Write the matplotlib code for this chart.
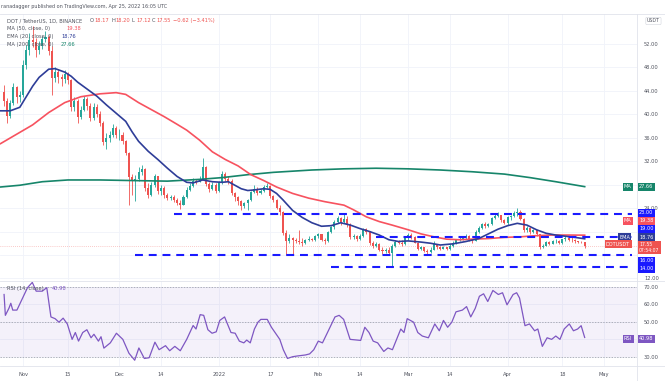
import matplotlib.pyplot as plt
import numpy as np

W, H = 665, 381

# daily DOT/USDT candles, Oct 26 2021 .. Apr 25 2022 (x = days since Nov 1 2021)
first_day = -6
first_open = 43.8
close = [
    42.3, 39.8, 41.9, 44.6, 42.9, 43.3,  # Oct
    48.5, 50.9, 52.6, 52.4, 51.0, 51.6, 52.8, 53.2, 50.8, 46.2, 47.3, 46.4, 46.0, 46.9, 45.8,
    41.3, 42.2, 39.6, 40.8, 42.6, 41.4, 39.4, 41.2, 40.1, 38.5, 35.2, 35.9, 36.5, 37.6, 36.4,  # Nov
    36.5, 35.4, 33.4, 29.3, 28.6, 29.0, 30.2, 30.6, 27.4, 26.3, 27.9, 29.4, 26.9, 27.4, 26.3,
    25.7, 25.9, 25.4, 24.9, 24.6, 25.9, 27.1, 27.8, 28.7, 28.5, 29.0, 31.0, 28.1, 27.3, 28.0, 26.9,  # Dec
    28.4, 29.9, 29.0, 28.6, 26.6, 25.9, 25.2, 24.4, 24.8, 25.4, 26.8, 27.3, 26.5, 27.0, 27.6,
    27.8, 26.0, 25.3, 24.0, 23.3, 19.7, 18.4, 18.9, 18.5, 18.3, 18.2, 18.0, 18.5, 18.8, 18.5, 19.2,  # Jan
    19.5, 18.6, 18.3, 19.9, 20.8, 21.6, 22.3, 21.6, 22.2, 21.2, 19.0, 19.3, 18.7, 19.2, 20.4,
    19.9, 18.0, 17.6, 17.9, 16.9, 16.6, 16.9, 16.4, 17.6, 18.2, 18.0, 17.9, 19.0,  # Feb
    19.4, 19.0, 18.1, 17.0, 17.3, 16.6, 16.5, 16.9, 17.9, 17.3, 17.0, 17.3, 17.0, 17.6, 18.1,
    18.6, 18.7, 19.0, 19.3, 18.5, 18.4, 20.0, 20.6, 21.3, 20.9, 21.3, 22.3, 22.6, 22.8, 21.9, 21.5,  # Mar
    22.4, 22.6, 23.2, 23.3, 22.2, 20.2, 20.6, 19.9, 20.2, 19.5, 17.3, 17.6, 18.2, 17.9, 18.3,
    18.4, 18.0, 18.7, 18.9, 18.6, 18.5, 18.3, 18.2, 18.17, 17.55,  # Apr
]
high = [
    45.0, 42.8, 42.5, 45.3, 44.8, 44.0,
    49.2, 51.8, 53.9, 55.1, 53.0, 52.5, 53.4, 54.2, 53.6, 51.6, 48.1, 47.8, 46.9, 47.5, 47.3,
    46.0, 42.9, 42.6, 41.5, 43.2, 42.9, 42.0, 41.9, 41.8, 40.6, 38.9, 36.8, 37.2, 38.4, 38.0,
    37.5, 36.9, 35.6, 33.5, 29.9, 29.6, 31.0, 31.3, 30.8, 28.2, 28.4, 29.9, 29.5, 27.9, 27.7,
    26.6, 26.3, 26.2, 25.7, 25.3, 26.2, 27.6, 28.2, 29.1, 29.0, 29.5, 32.6, 31.2, 28.4, 28.5, 28.2,
    28.7, 30.3, 30.2, 29.5, 29.0, 26.8, 26.0, 25.4, 25.1, 25.6, 27.0, 27.9, 27.6, 27.3, 27.9,
    28.2, 27.9, 26.2, 25.5, 24.6, 23.5, 20.2, 19.6, 19.0, 18.9, 20.3, 18.9, 18.7, 19.2, 18.9, 19.4,
    19.8, 19.6, 18.9, 20.1, 21.0, 21.9, 22.6, 22.5, 23.1, 22.6, 21.4, 19.6, 19.4, 19.5, 20.6,
    20.6, 20.1, 18.3, 18.2, 18.0, 17.3, 17.2, 17.3, 17.8, 18.5, 18.6, 18.5, 19.3,
    19.8, 19.7, 19.2, 18.2, 17.5, 17.4, 17.0, 17.3, 18.3, 17.9, 17.6, 17.5, 17.4, 17.8, 18.3,
    18.8, 19.0, 19.3, 19.6, 19.4, 18.8, 20.3, 20.9, 21.5, 21.6, 21.5, 22.5, 23.1, 23.4, 22.9, 22.2,
    22.6, 22.9, 23.5, 24.0, 23.6, 22.3, 20.9, 20.8, 20.4, 20.3, 19.6, 17.9, 18.4, 18.4, 18.5,
    18.7, 18.5, 18.8, 19.2, 19.1, 19.0, 18.7, 18.4, 18.3, 18.20,
]
low = [
    41.5, 38.6, 39.3, 41.6, 42.0, 42.1,
    43.0, 47.8, 50.2, 51.5, 49.8, 50.3, 51.2, 52.3, 50.1, 43.3, 45.6, 45.3, 44.9, 45.4, 45.1,
    40.6, 40.5, 38.5, 39.2, 40.5, 40.8, 38.9, 39.0, 39.6, 38.0, 34.8, 34.0, 35.2, 36.2, 35.9,
    35.6, 34.9, 33.0, 24.6, 26.2, 25.2, 28.7, 29.7, 27.0, 25.8, 26.1, 27.6, 26.4, 26.2, 25.7,
    25.3, 25.4, 25.0, 24.6, 23.9, 24.5, 25.7, 26.9, 27.6, 28.1, 28.4, 28.9, 27.7, 26.8, 27.1, 26.6,
    26.7, 28.1, 28.6, 28.1, 26.2, 25.2, 24.5, 23.6, 24.0, 23.7, 25.2, 26.6, 26.3, 26.4, 26.8,
    27.4, 25.7, 25.0, 23.8, 22.9, 19.4, 16.0, 18.1, 16.2, 18.0, 17.9, 17.6, 17.8, 18.3, 18.3, 18.3,
    18.9, 18.4, 17.9, 18.2, 19.7, 20.5, 21.4, 21.2, 21.5, 20.8, 18.8, 18.7, 18.3, 18.5, 19.1,
    19.6, 17.7, 17.2, 17.4, 16.7, 16.1, 16.3, 16.2, 14.2, 17.4, 17.8, 17.6, 17.7,
    18.6, 18.7, 18.0, 16.8, 16.9, 16.5, 16.1, 16.3, 16.8, 17.0, 16.8, 17.0, 16.8, 16.9, 17.4,
    17.8, 18.4, 18.5, 18.8, 18.3, 18.0, 18.3, 19.7, 20.4, 20.6, 20.8, 21.2, 22.2, 22.4, 21.7, 21.3,
    21.2, 22.0, 22.4, 22.6, 22.0, 20.0, 20.0, 19.6, 19.7, 19.3, 17.1, 17.2, 17.5, 17.7, 17.8,
    18.0, 17.8, 17.8, 18.4, 18.4, 18.2, 18.1, 18.0, 18.0, 17.12,
]

# moving averages (day, price)
ema20_days = [-7, -4, -1, 1, 3, 5, 8, 10, 13, 15, 17, 20, 23, 26, 29, 32, 34, 36, 39, 42, 45, 48,
              51, 53, 56, 59, 62, 64, 66, 68, 70, 72, 75, 77, 79, 81, 84, 87, 90, 93, 96, 99, 102,
              105, 108, 111, 114, 117, 120, 124, 127, 130, 134, 138, 142, 145, 148, 151, 154, 157,
              160, 163, 166, 169, 172, 175]
ema20_vals = [40.6, 40.6, 41.2, 43.0, 44.8, 46.3, 47.7, 47.8, 47.2, 46.5, 45.5, 44.3, 43.1, 41.6,
              40.2, 38.8, 37.0, 35.4, 33.7, 32.3, 30.8, 29.4, 28.4, 28.3, 28.8, 28.5, 28.4, 28.5,
              27.9, 27.3, 27.0, 27.1, 27.3, 27.2, 26.5, 25.4, 23.6, 22.4, 21.5, 20.9, 21.0, 21.5,
              21.1, 20.5, 20.0, 19.4, 18.6, 18.3, 18.4, 18.2, 18.0, 17.7, 17.9, 18.3, 18.8, 19.6,
              20.4, 21.0, 21.4, 21.1, 20.3, 19.7, 19.4, 19.2, 19.0, 18.76]
ma50_days = [-7, -2, 3, 8, 13, 18, 24, 29, 32, 36, 40, 44, 48, 51, 55, 59, 63, 67, 71, 75, 79, 84,
             89, 94, 100, 103, 107, 111, 115, 120, 124, 128, 132, 136, 140, 145, 150, 155, 160,
             165, 170, 175]
ma50_vals = [35.0, 36.6, 38.2, 40.3, 42.0, 43.0, 43.5, 43.7, 43.4, 42.0, 40.8, 39.6, 38.3, 37.3,
             35.6, 33.6, 32.3, 31.2, 29.7, 28.7, 27.6, 26.5, 25.7, 25.1, 24.5, 23.7, 22.5, 21.7,
             21.1, 20.3, 19.6, 19.1, 18.7, 18.6, 18.7, 18.8, 19.0, 19.1, 19.3, 19.4, 19.4, 19.38]
ma200_days = [-7, -1, 6, 14, 24, 34, 45, 55, 62, 70, 78, 90, 100, 110, 120, 130, 140, 150, 158,
              166, 175]
ma200_vals = [27.6, 27.9, 28.5, 28.8, 28.8, 28.7, 28.6, 28.9, 29.2, 29.7, 30.1, 30.5, 30.7, 30.8,
              30.7, 30.5, 30.2, 29.8, 29.2, 28.5, 27.66]

# RSI(14)
rsi_days = [-5.9, -5.5, -4.4, -3.8, -3.2, -1.9, 1.4, 2.9, 4.1, 6.0, 7.4, 8.7, 10.0, 11.2, 12.5,
            13.8, 15.3, 16.3, 17.3, 18.6, 19.9, 21.2, 22.1, 23.5, 24.3, 25.2, 27.2, 29.1, 31.1,
            33.0, 34.8, 36.1, 37.8, 39.3, 41.1, 42.4, 44.4, 45.7, 47.3, 49.0, 51.0, 53.0, 53.9,
            55.2, 56.3, 57.6, 58.9, 60.2, 61.3, 62.8, 64.8, 66.1, 67.4, 68.8, 69.7, 70.8, 72.1,
            73.2, 74.1, 76.1, 77.4, 80.0, 81.1, 82.4, 84.0, 85.4, 88.0, 89.3, 90.6, 92.0, 93.3,
            94.6, 97.2, 98.5, 99.9, 101.9, 105.2, 106.5, 107.8, 109.1, 110.5, 112.4, 113.7, 115.1,
            116.4, 117.7, 118.7, 119.7, 121.7, 123.0, 124.4, 126.3, 128.3, 129.7, 131.0, 132.3,
            133.6, 134.9, 136.9, 138.2, 139.5, 140.9, 142.2, 143.5, 144.8, 146.4, 148.1, 149.4,
            150.8, 152.7, 153.8, 154.7, 156.4, 157.8, 159.4, 160.4, 161.8, 163.3, 164.7, 166.0,
            167.3, 168.6, 170.2, 171.5, 172.8, 173.9, 175.0]
rsi_vals = [65.5, 53.6, 57.6, 60.5, 56.6, 56.6, 69.4, 72.4, 67.4, 67.4, 69.4, 52.7, 51.7, 49.7,
            52.0, 48.7, 39.9, 43.8, 38.9, 43.8, 45.4, 40.8, 42.8, 38.9, 41.4, 34.9, 37.9, 43.4,
            39.9, 32.0, 28.0, 35.0, 29.0, 29.4, 38.3, 34.0, 36.3, 33.4, 35.9, 33.4, 39.9, 47.8,
            45.8, 54.0, 53.6, 45.4, 43.4, 44.2, 50.7, 52.7, 43.8, 43.4, 38.9, 37.9, 39.5, 37.9,
            45.8, 49.7, 51.3, 51.3, 46.8, 39.9, 34.0, 29.0, 30.0, 30.4, 31.0, 31.6, 34.0, 38.9,
            37.9, 42.8, 52.7, 53.6, 51.3, 39.9, 39.3, 46.8, 43.8, 38.9, 37.9, 33.0, 35.0, 34.0,
            39.9, 45.8, 43.8, 51.7, 49.7, 43.8, 41.8, 40.8, 48.7, 44.8, 50.7, 46.8, 49.7, 55.6,
            56.6, 58.6, 52.7, 57.6, 64.5, 65.9, 61.5, 67.8, 65.5, 66.5, 59.6, 65.5, 66.5, 63.5,
            47.7, 48.7, 44.8, 45.8, 35.9, 40.8, 39.9, 41.8, 39.9, 45.8, 48.7, 44.8, 45.8, 47.7,
            40.98]

# drawn support / resistance levels and the day each one starts
levels = [23.0, 19.0, 16.0, 14.0]
level_start = [47, 110, 35, 96]
level_end = 189.7

tick_days = [0, 14, 30, 43, 61, 77, 92, 105, 120, 133, 151, 168, 181]
tick_labels = ['Nov', '15', 'Dec', '14', '2022', '17', 'Feb', '14', 'Mar', '14', 'Apr', '18', 'May']

GREEN, RED = '#26a69a', '#ef5350'
MA50_C, EMA_C, MA200_C, RSI_C, LVL_C = '#f7525f', '#2e3d98', '#16856a', '#7e57c2', '#1a1aff'
GRID = '#f0f3fa'
AXT = '#50535e'
FS = 3.7


def fx(x):
    return x / W


def fy(y):
    return 1 - y / H


fig = plt.figure(figsize=(W / 100, H / 100), dpi=100)
fig.patch.set_facecolor('white')

ax = fig.add_axes([0, fy(280), fx(637), (280 - 14) / H])
rax = fig.add_axes([0, fy(366), fx(637), (366 - 281) / H])
for a in (ax, rax):
    a.set_xlim(-7.17, 191.3)
    for s in a.spines.values():
        s.set_visible(False)
    a.set_xticks(tick_days)
    a.grid(True, color=GRID, lw=0.6)
    a.set_axisbelow(True)
    a.tick_params(length=0)
    a.yaxis.tick_right()
ax.set_ylim(11.73, 57.12)
rax.set_ylim(24.7, 73.2)

# candles
days = np.arange(first_day, first_day + len(close))
c = np.array(close)
o = np.array([first_open] + close[:-1])
hi = np.maximum(np.array(high), np.maximum(o, c))
lo = np.minimum(np.array(low), np.minimum(o, c))
cols = np.where(c >= o, GREEN, RED)
ax.vlines(days, lo, hi, colors=cols, lw=0.6, zorder=3)
ax.bar(days, np.maximum(np.abs(c - o), 0.06), bottom=np.minimum(o, c), width=0.64,
       color=cols, zorder=3)

ax.plot(ma200_days, ma200_vals, color=MA200_C, lw=1.2, zorder=4)
ax.plot(ma50_days, ma50_vals, color=MA50_C, lw=1.2, zorder=4)
ax.plot(ema20_days, ema20_vals, color=EMA_C, lw=1.2, zorder=4)

ax.axhline(close[-1], color=RED, lw=0.5, ls=(0, (1, 2)), alpha=0.6, zorder=2)
ax.hlines(levels, level_start, level_end, colors=LVL_C, lw=1.5,
          linestyles=[(0, (3.8, 2.8))] * len(levels), zorder=5)

# price scale; 28, 20 and 16 sit under the value tags
pticks = np.arange(12, 56, 4)
ax.set_yticks(pticks)
ax.set_yticklabels(['' if v in (28, 20, 16) else '%.2f' % v for v in pticks])
ax.set_xticklabels([])
ax.tick_params(axis='y', labelsize=FS, labelcolor=AXT, pad=5)

# RSI pane
rax.axhspan(30, 70, color=RSI_C, alpha=0.08, lw=0)
for lv in (70, 50, 30):
    rax.axhline(lv, color='#9598a1', lw=0.5, ls=(0, (2, 2)))
rax.plot(rsi_days, rsi_vals, color=RSI_C, lw=0.9)
rax.set_yticks([30, 40, 50, 60, 70])
rax.set_yticklabels(['30.00', '', '50.00', '60.00', '70.00'])
rax.tick_params(axis='y', labelsize=FS, labelcolor=AXT, pad=5)
rax.set_xticklabels(tick_labels)
rax.tick_params(axis='x', labelsize=FS, labelcolor=AXT, pad=4)

# pane borders
for y in (13.5, 280.5, 366):
    fig.add_artist(plt.Line2D([0, 1], [fy(y), fy(y)], color='#e0e3eb', lw=0.6))
fig.add_artist(plt.Line2D([fx(637), fx(637)], [fy(13.5), 0], color='#e0e3eb', lw=0.6))


def tag(x, y, s, color, size=3.6):
    fig.text(fx(x), fy(y), s, fontsize=size, color='white', va='center', ha='left',
             bbox=dict(boxstyle='square,pad=0.3', fc=color, ec='none'), zorder=10)


tag(624, 186.6, 'MA', MA200_C)
tag(639, 186.6, '27.66', MA200_C)
tag(639, 212.7, '23.00', LVL_C)
tag(624, 220.7, 'MA', MA50_C)
tag(639, 220.7, '19.38', MA50_C)
tag(639, 229, '19.00', LVL_C)
tag(619, 237.3, 'EMA', EMA_C)
tag(639, 237.3, '18.76', EMA_C)
tag(606, 244.3, 'DOTUSDT', RED)
tag(639, 247.6, '17.55\n07:54:07', RED, size=3.3)
tag(639, 260.7, '16.00', LVL_C)
tag(639, 269, '14.00', LVL_C)
tag(624, 338.5, 'RSI', RSI_C)
tag(639, 338.5, '40.98', RSI_C)
fig.text(fx(647), fy(21), 'USDT', fontsize=3.4, color=AXT, va='center',
         bbox=dict(boxstyle='round,pad=0.25', fc='white', ec='#d1d4dc', lw=0.4))

# header and legends
fig.text(fx(1), fy(6.7), 'ranadagger published on TradingView.com, Apr 25, 2022 16:05 UTC',
         fontsize=3.5, color=AXT, va='center')
fig.text(fx(7), fy(20.7), 'DOT / TetherUS, 1D, BINANCE', fontsize=FS, color=AXT, va='center')
for x, k, v in [(90, 'O', '18.17'), (111, 'H', '18.20'), (132, 'L', '17.12'), (152, 'C', '17.55')]:
    fig.text(fx(x), fy(20.7), k, fontsize=FS, color=AXT, va='center')
    fig.text(fx(x + 4.4), fy(20.7), v, fontsize=FS, color=RED, va='center')
fig.text(fx(173), fy(20.7), '\u22120.62 (\u22123.41%)', fontsize=FS, color=RED, va='center')
legend = [(28.7, 'MA (50, close, 0)', '19.38', MA50_C, 66.7),
          (36.7, 'EMA (20, close, 0)', '18.76', EMA_C, 61),
          (44.2, 'MA (200, close, 0)', '27.66', MA200_C, 61)]
for y, lab, val, col, vx in legend:
    fig.text(fx(7), fy(y), lab, fontsize=FS, color=AXT, va='center')
    fig.text(fx(vx), fy(y), val, fontsize=FS, color=col, va='center')
fig.text(fx(7), fy(288.5), 'RSI (14, close)', fontsize=FS, color=AXT, va='center')
fig.text(fx(52), fy(288.5), '40.98', fontsize=FS, color=RSI_C, va='center')

fig.savefig('out.png', dpi=100)
